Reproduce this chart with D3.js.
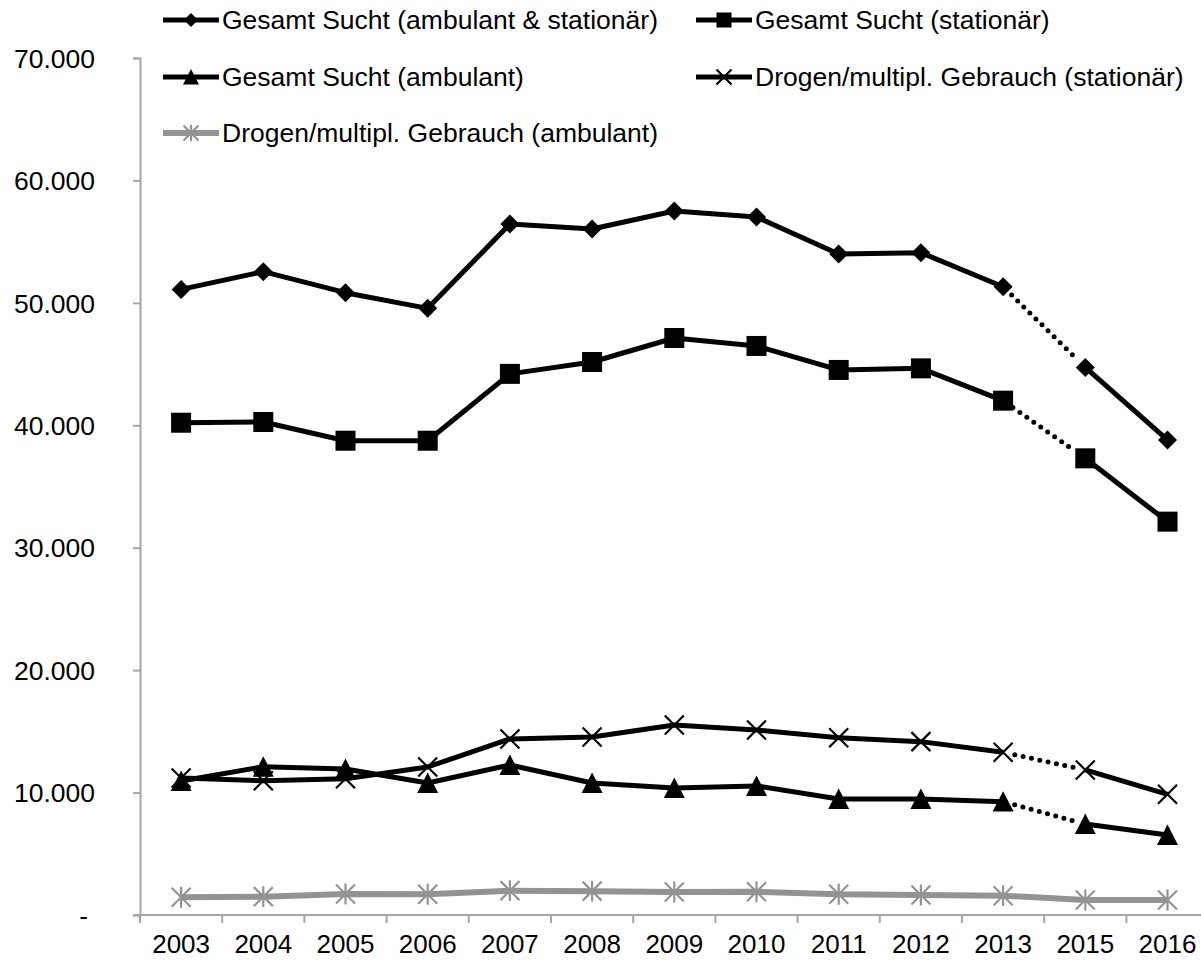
<!DOCTYPE html>
<html>
<head>
<meta charset="utf-8">
<script src="https://cdn.jsdelivr.net/npm/d3@7"></script>
<style>
  html, body { margin: 0; padding: 0; background: #fff; }
  svg { display: block; }
  text { font-family: "Liberation Sans", Arial, sans-serif; fill: #000; }
</style>
</head>
<body>
<svg id="chart" width="1201" height="960"></svg>
<script>
// Jahre (2014 fehlt in der Reihe)
const years = ["2003","2004","2005","2006","2007","2008","2009","2010","2011","2012","2013","2015","2016"];

// Fallzahlen je Reihe
const gesamtAmbStat = [51100, 52550, 50830, 49550, 56440, 56030, 57500, 57010, 53990, 54100, 51320, 44730, 38800];
const gesamtStat    = [40210, 40270, 38740, 38740, 44200, 45170, 47130, 46480, 44520, 44650, 42010, 37300, 32130];
const gesamtAmb     = [10950, 12110, 11930, 10780, 12250, 10780, 10370, 10540, 9480, 9480, 9260, 7430, 6540];
const drogenStat    = [11190, 10970, 11130, 12090, 14380, 14540, 15520, 15110, 14480, 14160, 13290, 11850, 9860];
const drogenAmb     = [1450, 1500, 1710, 1690, 1990, 1950, 1880, 1900, 1690, 1630, 1580, 1230, 1230];

// Achsenbeschriftung
const yTicks = [0, 10000, 20000, 30000, 40000, 50000, 60000, 70000];
const yTickLabels = ["-", "10.000", "20.000", "30.000", "40.000", "50.000", "60.000", "70.000"];

// Reihen: Name, Werte, Markertyp, Farbe, Lücke 2013→2015 gepunktet?
const series = [
  { name: "Gesamt Sucht (ambulant & stationär)", values: gesamtAmbStat, marker: "diamond",  color: "#000", dotGap: true },
  { name: "Gesamt Sucht (stationär)",            values: gesamtStat,    marker: "square",   color: "#000", dotGap: true },
  { name: "Gesamt Sucht (ambulant)",             values: gesamtAmb,     marker: "triangle", color: "#000", dotGap: true },
  { name: "Drogen/multipl. Gebrauch (stationär)",values: drogenStat,    marker: "cross",    color: "#000", dotGap: true },
  { name: "Drogen/multipl. Gebrauch (ambulant)", values: drogenAmb,     marker: "star",     color: "#939393", dotGap: false }
];

const svg = d3.select("#chart");
const axisColor = "#a6a6a6";

const plotLeft = 140, plotTop = 58, plotBottom = 915;
const bandW = 82.2;

const x = d3.scaleBand().domain(years).range([plotLeft, plotLeft + bandW * years.length]).paddingInner(0).paddingOuter(0);
const y = d3.scaleLinear().domain([0, 70000]).range([plotBottom, plotTop]);
const cx = d => x(d) + x.bandwidth() / 2;

// Y-Achse
const gY = svg.append("g").attr("transform", `translate(${plotLeft},0)`)
  .call(d3.axisLeft(y).tickValues(yTicks).tickSize(7).tickPadding(0).tickFormat((d, i) => yTickLabels[i]));
gY.select(".domain").attr("stroke", axisColor).attr("stroke-width", 2);
gY.selectAll(".tick line").attr("stroke", axisColor).attr("stroke-width", 2);
gY.selectAll(".tick text")
  .attr("x", (d) => d === 0 ? -52 : -45)
  .attr("dy", "0.35em")
  .style("font-size", "26.5px")
  .attr("text-anchor", "end");

// X-Achse: Linie bis zum rechten Rand, Striche an den Kategoriegrenzen
const gX = svg.append("g").attr("transform", `translate(0,${plotBottom})`);
gX.append("line").attr("x1", plotLeft - 7).attr("x2", 1201).attr("y1", 0).attr("y2", 0)
  .attr("stroke", axisColor).attr("stroke-width", 2);
gX.selectAll("line.tk").data(years.concat(["end"])).join("line").attr("class", "tk")
  .attr("x1", (d, i) => plotLeft + i * bandW).attr("x2", (d, i) => plotLeft + i * bandW)
  .attr("y1", 0).attr("y2", 8).attr("stroke", axisColor).attr("stroke-width", 2);
gX.selectAll("text").data(years).join("text")
  .attr("x", d => cx(d)).attr("y", 38)
  .attr("text-anchor", "middle").style("font-size", "26px").text(d => d);

// Marker-Zeichner
function drawMarker(g, type, px, py, s, color) {
  const h = s / 2;
  if (type === "diamond") {
    g.append("path").attr("d", `M${px},${py - h}L${px + h},${py}L${px},${py + h}L${px - h},${py}Z`).attr("fill", color);
  } else if (type === "square") {
    g.append("rect").attr("x", px - h).attr("y", py - h).attr("width", s).attr("height", s).attr("fill", color);
  } else if (type === "triangle") {
    g.append("path").attr("d", `M${px},${py - h}L${px + h},${py + h * 0.95}L${px - h},${py + h * 0.95}Z`).attr("fill", color);
  } else if (type === "cross") {
    g.append("path").attr("d", `M${px - h},${py - h}L${px + h},${py + h}M${px - h},${py + h}L${px + h},${py - h}`)
      .attr("stroke", color).attr("stroke-width", 2.2).attr("fill", "none");
  } else if (type === "star") {
    g.append("path").attr("d", `M${px - h},${py - h}L${px + h},${py + h}M${px - h},${py + h}L${px + h},${py - h}M${px},${py - h * 1.1}L${px},${py + h * 1.1}`)
      .attr("stroke", color).attr("stroke-width", 2.2).attr("fill", "none");
  }
}

const markerSize = { diamond: 19, square: 20, triangle: 21, cross: 19, star: 19 };
const legendMarkerSize = { diamond: 14, square: 15, triangle: 16, cross: 15, star: 15 };

const line = d3.line().x(d => cx(d.year)).y(d => y(d.value));
const gapIdx = years.indexOf("2013");

const gLines = svg.append("g");
series.forEach(s => {
  const pts = years.map((yr, i) => ({ year: yr, value: s.values[i] }));
  const lw = s.color === "#000" ? 5 : 6;
  if (s.dotGap) {
    gLines.append("path").attr("d", line(pts.slice(0, gapIdx + 1)))
      .attr("fill", "none").attr("stroke", s.color).attr("stroke-width", lw).attr("stroke-linejoin", "round");
    gLines.append("path").attr("d", line(pts.slice(gapIdx + 1)))
      .attr("fill", "none").attr("stroke", s.color).attr("stroke-width", lw).attr("stroke-linejoin", "round");
    // gepunktete Verbindung über die fehlende Jahresangabe
    const a = pts[gapIdx], b = pts[gapIdx + 1];
    const x1 = cx(a.year), y1 = y(a.value), x2 = cx(b.year), y2 = y(b.value);
    const len = Math.hypot(x2 - x1, y2 - y1);
    const ux = (x2 - x1) / len, uy = (y2 - y1) / len;
    const inset = 12;
    gLines.append("line")
      .attr("x1", x1 + ux * inset).attr("y1", y1 + uy * inset)
      .attr("x2", x2 - ux * inset).attr("y2", y2 - uy * inset)
      .attr("stroke", s.color).attr("stroke-width", 5).attr("stroke-linecap", "round")
      .attr("stroke-dasharray", "0 8.5");
  } else {
    gLines.append("path").attr("d", line(pts))
      .attr("fill", "none").attr("stroke", s.color).attr("stroke-width", lw).attr("stroke-linejoin", "round");
  }
  const gm = svg.append("g");
  pts.forEach(p => drawMarker(gm, s.marker, cx(p.year), y(p.value), markerSize[s.marker], s.color));
});

// Legende
const legendPos = [
  { x: 163, y: 20 }, { x: 696, y: 20 },
  { x: 163, y: 77 }, { x: 696, y: 77 },
  { x: 163, y: 133 }
];
series.forEach((s, i) => {
  const p = legendPos[i];
  const g = svg.append("g");
  g.append("line").attr("x1", p.x).attr("x2", p.x + 56).attr("y1", p.y).attr("y2", p.y)
    .attr("stroke", s.color).attr("stroke-width", s.color === "#000" ? 5 : 6);
  drawMarker(g, s.marker, p.x + 28, p.y, legendMarkerSize[s.marker], s.color);
  g.append("text").attr("x", p.x + 59).attr("y", p.y).attr("dy", "0.35em")
    .style("font-size", "26.5px").text(s.name);
});
</script>
</body>
</html>
